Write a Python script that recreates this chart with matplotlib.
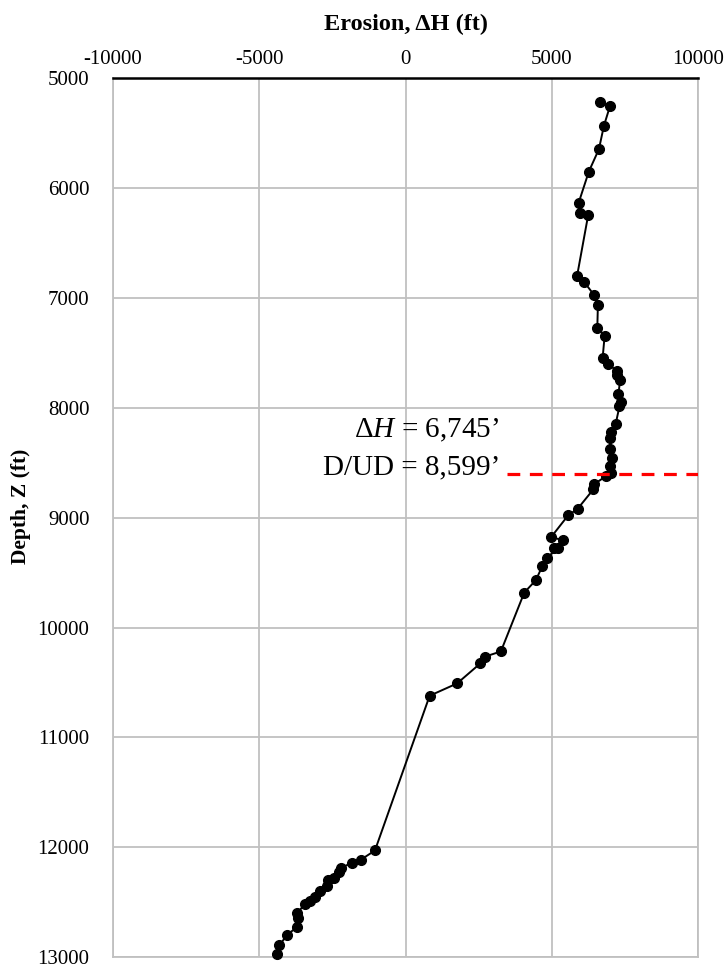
import matplotlib.pyplot as plt

plt.rcParams['font.family'] = ['Liberation Serif', 'DejaVu Serif']
plt.rcParams['mathtext.fontset'] = 'custom'
plt.rcParams['mathtext.rm'] = 'Liberation Serif'
plt.rcParams['mathtext.it'] = 'Liberation Serif:italic'
plt.rcParams['axes.unicode_minus'] = False

# erosion (ft) vs depth (ft)
erosion = [6641, 6986, 6779, 6607, 6262, 5917, 5976, 6241, 5862, 6114, 6434, 6572,
           6552, 6803, 6734, 6931, 7217, 7241, 7331, 7276, 7355, 7310, 7183, 7010,
           6986, 6976, 7045, 6986, 7010, 6848, 6434, 6414, 5883, 5552, 4976, 5379,
           5055, 5207, 4828, 4676, 4448, 4055, 3255, 2724, 2552, 1759, 821,
           -1049, -1537, -1844, -2220, -2268, -2449, -2643, -2698, -2927, -3098,
           -3268, -3439, -3723, -3689, -3723, -4064, -4317, -4406]
depth = [5215, 5253, 5431, 5645, 5849, 6131, 6222, 6243, 6797, 6858, 6970, 7064,
         7273, 7343, 7545, 7597, 7667, 7703, 7749, 7870, 7949, 7985, 8143, 8221,
         8273, 8373, 8455, 8530, 8591, 8622, 8697, 8743, 8918, 8980, 9176, 9206,
         9273, 9279, 9364, 9440, 9570, 9682, 10218, 10264, 10327, 10509, 10621,
         12030, 12115, 12142, 12191, 12227, 12282, 12303, 12357, 12403, 12455,
         12494, 12521, 12600, 12642, 12727, 12803, 12894, 12970]

x_ticks = [-10000, -5000, 0, 5000, 10000]
y_ticks = [5000, 6000, 7000, 8000, 9000, 10000, 11000, 12000, 13000]

delta_h = 6745
dud_depth = 8599
dash_start = 3470

fig = plt.figure(figsize=(7.25, 9.67), dpi=100)
ax = fig.add_axes([0.156, 0.0103, 0.807, 0.9087])

ax.plot(erosion, depth, color='black', lw=1.4, marker='o', markersize=7,
        zorder=3, clip_on=False)
ax.plot([dash_start, 10000], [dud_depth, dud_depth], color='#ff0000', lw=2.3,
        linestyle=(0, (4, 3)), zorder=4)

ax.set_xlim(-10000, 10000)
ax.set_ylim(13000, 5000)
ax.set_xticks(x_ticks)
ax.set_yticks(y_ticks)
ax.xaxis.tick_top()
ax.xaxis.set_label_position('top')
ax.tick_params(axis='x', length=0, pad=7, labelsize=15)
ax.tick_params(axis='y', length=0, pad=17, labelsize=15)
ax.grid(True, color='#c0c0c0', lw=1.3)
ax.set_axisbelow(True)

for side in ['left', 'right', 'bottom']:
    ax.spines[side].set_color('#c0c0c0')
    ax.spines[side].set_linewidth(1.3)
ax.spines['top'].set_color('black')
ax.spines['top'].set_linewidth(1.8)

ax.set_xlabel('Erosion, ΔH (ft)', fontsize=17.5, fontweight='bold', labelpad=14)
ax.set_ylabel('Depth, Z (ft)', fontsize=15.5, fontweight='bold')
ax.yaxis.set_label_coords(-0.14, 0.513)

ax.text(3210, 8273, 'Δ$H$ = {:,}’'.format(delta_h), fontsize=21, ha='right',
        va='baseline')
ax.text(3240, 8610, 'D/UD = {:,}’'.format(dud_depth), fontsize=21, ha='right',
        va='baseline')

fig.savefig('out.png', dpi=100)
